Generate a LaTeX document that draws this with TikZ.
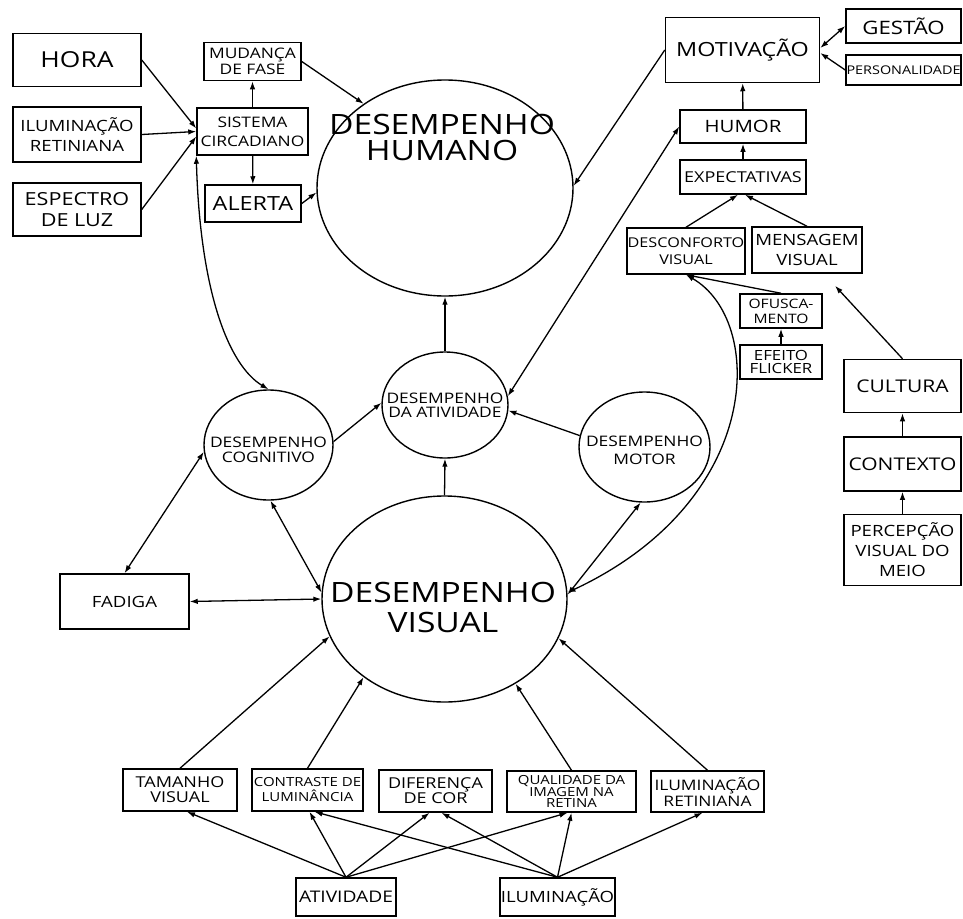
\documentclass[tikz,border=0pt]{standalone}
\usepackage{fontspec}
\setmainfont{Open Sans}[FakeStretch=1.2]
\usetikzlibrary{arrows.meta,shapes.geometric}
\newcommand{\fsz}[2]{\fontsize{#1}{#2}\selectfont}
\tikzset{
  box/.style={draw, line width=1.5pt, inner sep=0pt, align=center},
  bubble/.style={draw, ellipse, line width=1.4pt, inner sep=0pt},
  lbl/.style={align=center, inner sep=0pt},
}
\begin{document}
\begin{tikzpicture}[x=1pt, y=-1pt, line width=1.3pt, >={Latex[length=8pt,width=5.5pt]}]
  \useasboundingbox (0,0) rectangle (963,918);
  % ritmo circadiano
  \node[box, minimum width=128, minimum height=53, font=\fsz{22}{24}] (hora) at (77,60) {HORA};
  \node[box, minimum width=128, minimum height=55, font=\fsz{15.5}{20}] (ilr) at (77,134.5) {ILUMINAÇÃO\\RETINIANA};
  \node[box, minimum width=128, minimum height=53, font=\fsz{18}{21}] (esp) at (77,209.5) {ESPECTRO\\DE LUZ};
  \node[box, minimum width=97, minimum height=38, font=\fsz{14.5}{15.5}] (mf) at (252.5,61.5) {MUDANÇA\\DE FASE};
  \node[box, minimum width=111, minimum height=47, font=\fsz{14.5}{19}] (sc) at (252.5,131.5) {SISTEMA\\CIRCADIANO};
  \node[box, minimum width=96, minimum height=37, font=\fsz{19.5}{22}] (al) at (253,203.5) {ALERTA};
  \node[bubble, minimum width=256, minimum height=216] (dh) at (445,188) {};
  \node[lbl, font=\fsz{28}{26}] (dht) at (442,137) {DESEMPENHO\\HUMANO};
  % motivacao
  \node[box, minimum width=154, minimum height=65, font=\fsz{19.5}{22}] (mot) at (742.5,50) {MOTIVAÇÃO};
  \node[box, minimum width=115, minimum height=34, font=\fsz{18.5}{20}] (ges) at (903.5,26) {GESTÃO};
  \node[box, minimum width=115, minimum height=30, font=\fsz{12}{14}] (per) at (903.5,70) {PERSONALIDADE};
  \node[box, minimum width=126, minimum height=33, font=\fsz{17}{20}] (hum) at (743,126.5) {HUMOR};
  \node[box, minimum width=126, minimum height=34, font=\fsz{15}{17}] (exp) at (743,177) {EXPECTATIVAS};
  \node[box, minimum width=118, minimum height=46, font=\fsz{13.5}{17}] (dcv) at (686,251) {DESCONFORTO\\VISUAL};
  \node[box, minimum width=110, minimum height=46, font=\fsz{15.5}{20}] (msg) at (807,250) {MENSAGEM\\VISUAL};
  \node[box, minimum width=82, minimum height=34, font=\fsz{13}{15}] (ofu) at (781,311) {OFUSCA-\\MENTO};
  \node[box, minimum width=82, minimum height=34, font=\fsz{14}{12.5}] (flk) at (781,362) {EFEITO\\FLICKER};
  \node[box, minimum width=117, minimum height=53, font=\fsz{17.5}{20}] (cul) at (902.5,386) {CULTURA};
  \node[box, minimum width=117, minimum height=54, font=\fsz{17.5}{20}] (ctx) at (902.5,464) {CONTEXTO};
  \node[box, minimum width=117, minimum height=71, font=\fsz{15.5}{20}] (pvm) at (902.5,550) {PERCEPÇÃO\\VISUAL DO\\MEIO};
  % desempenho
  \node[bubble, minimum width=126, minimum height=106, label={[lbl, font=\fsz{14.5}{13.5}]center:DESEMPENHO\\DA ATIVIDADE}] (da) at (445,405) {};
  \node[bubble, minimum width=129, minimum height=110, label={[lbl, yshift=-5pt, font=\fsz{14.5}{15}]center:DESEMPENHO\\COGNITIVO}] (dc) at (268.5,445) {};
  \node[bubble, minimum width=131, minimum height=110, label={[lbl, yshift=-3pt, font=\fsz{14.5}{18}]center:DESEMPENHO\\MOTOR}] (dm) at (644.5,447) {};
  \node[bubble, minimum width=245, minimum height=206] (dv) at (444.5,599) {};
  \node[lbl, font=\fsz{28}{30}] (dvt) at (443,607) {DESEMPENHO\\VISUAL};
  \node[box, minimum width=129, minimum height=55, font=\fsz{15.5}{18}] (fad) at (124.5,601.5) {FADIGA};
  % fatores
  \node[box, minimum width=114, minimum height=42, font=\fsz{15}{15}] (tam) at (180,790) {TAMANHO\\VISUAL};
  \node[box, minimum width=111, minimum height=42, font=\fsz{12.5}{15}] (con) at (307.5,790) {CONTRASTE DE\\LUMINÂNCIA};
  \node[box, minimum width=113, minimum height=42, font=\fsz{15}{15}] (dif) at (435.5,791) {DIFERENÇA\\DE COR};
  \node[box, minimum width=129, minimum height=41, font=\fsz{12.5}{11}] (qua) at (571.5,791.5) {QUALIDADE DA\\IMAGEM NA\\RETINA};
  \node[box, minimum width=113, minimum height=41, font=\fsz{14.5}{16}] (irb) at (707.5,791.5) {ILUMINAÇÃO\\RETINIANA};
  \node[box, minimum width=100, minimum height=38, font=\fsz{16}{18}] (atv) at (346,897) {ATIVIDADE};
  \node[box, minimum width=115, minimum height=38, font=\fsz{15.5}{18}] (ilu) at (557.5,897) {ILUMINAÇÃO};

  \draw[->] (hora.east) -- ([yshift=3pt]sc.west); \draw[->] (ilr.east) -- (sc.west); \draw[->] (esp.east) -- ([yshift=-5pt]sc.west);
  \draw[->] (sc) -- (mf); \draw[->] (sc) -- (al);
  \draw[->] (mf.east) -- (dh.134); \draw[->] (al.east) -- (dh.182);
  \draw[<->] (sc.south west) .. controls (200,290) and (228,365) .. (dc.north);
  \draw[->] (mot.west) -- (dh.1); \draw[<->] (ges.west) -- ([yshift=2pt]mot.east); \draw[->] (per.west) -- ([yshift=-3pt]mot.east);
  \draw[->] (hum) -- (mot); \draw[->] (exp) -- (hum);
  \draw[->] (dcv.north) -- ([xshift=-5pt]exp.south); \draw[->] (msg.north) -- ([xshift=2pt]exp.south);
  \draw[->] (ofu.north) -- (dcv.south); \draw[->] (flk) -- (ofu);
  \draw[<->] (hum.west) -- (da.8);
  \draw[<->] (dcv.south) .. controls (765,320) and (765,500) .. (dv.3);
  \draw[->] (cul.north) -- ([xshift=28pt,yshift=-12pt]msg.south); \draw[->] (ctx) -- (cul); \draw[->] (pvm) -- (ctx);
  \draw[->] (da.north) -- (dh.south); \draw[->] (dv.north) -- (da.south);
  \draw[->] (dc.3) -- (da.178); \draw[->] (dm.170) -- (da.-5);
  \draw[<->] (dc.186) -- (fad.north); \draw[<->] (fad.east) -- (dv.180);
  \draw[<->] (dc.272) -- (dv.177); \draw[<->] (dm.266) -- (dv.2);
  \draw[->] (tam.north) -- (dv.198); \draw[->] (con.north) -- (dv.224);
  \draw[->] (qua.north) -- (dv.310); \draw[->] (irb.north) -- (dv.341);
  \draw[->] (atv.north) -- ([xshift=7pt]tam.south); \draw[->] (atv.north) -- ([xshift=2pt]con.south);
  \draw[->] (atv.north) -- ([xshift=-6pt]dif.south); \draw[->] (atv.north) -- ([xshift=-4pt]qua.south);
  \draw[->] (ilu.north) -- ([xshift=7pt]con.south); \draw[->] (ilu.north) -- ([xshift=6pt]dif.south);
  \draw[->] (ilu.north) -- (qua.south); \draw[->] (ilu.north) -- ([xshift=-5pt]irb.south);
\end{tikzpicture}
\end{document}
